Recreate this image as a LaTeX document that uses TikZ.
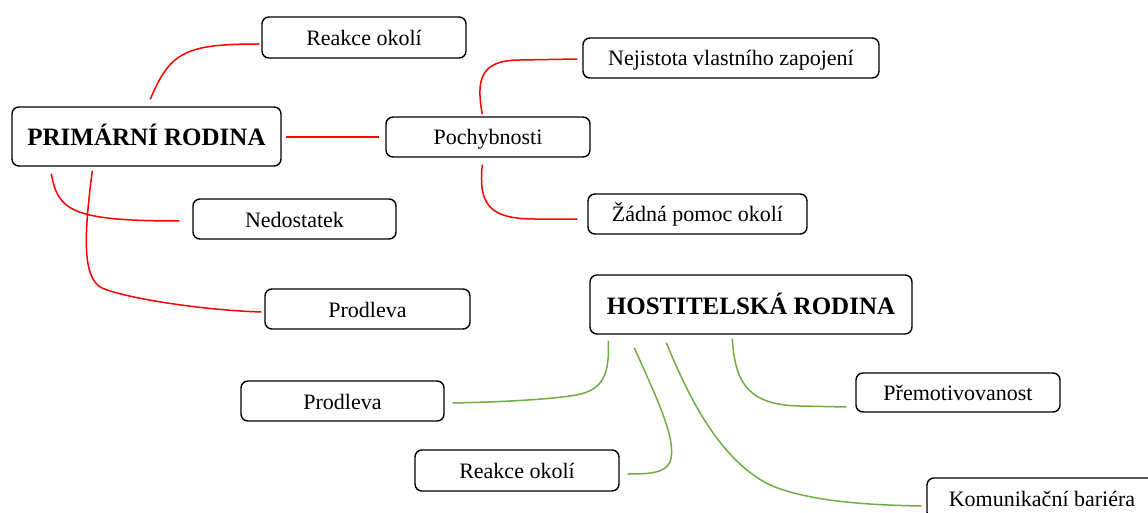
\documentclass[tikz,border=0pt]{standalone}
\usepackage{fontspec}
\setmainfont{Liberation Serif}
\usetikzlibrary{calc}
\definecolor{redline}{RGB}{255,0,0}
\definecolor{greenline}{RGB}{112,173,71}
\begin{document}
\begin{tikzpicture}[x=1pt,y=-1pt,
  box/.style={draw=black,line width=1.4pt,rounded corners=7pt,fill=white,inner sep=0pt,
    font=\fontsize{22}{26}\selectfont,minimum height=40pt,minimum width=204pt,
    text height=18pt,text depth=2pt},
  mainbox/.style={box,font=\fontsize{25}{30}\selectfont\bfseries,minimum height=59pt,
    text height=21pt,text depth=2pt},
  redc/.style={draw=redline,line width=1.5pt},
  greenc/.style={draw=greenline,line width=1.5pt}]
\clip (0,0) rectangle (1148,513);
\fill[white] (0,0) rectangle (1148,513);
% nodes
\node[mainbox,minimum width=269pt] (prim) at (146.5,136.5) {PRIMÁRNÍ RODINA};
\node[box,minimum height=41pt] (reak1) at (364,37.5) {Reakce okolí};
\node[box] (poch) at (488,137) {Pochybnosti};
\node[box,minimum width=296pt] (nej) at (731,58) {Nejistota vlastního zapojení};
\node[box,minimum width=219pt] (zadna) at (697.5,214) {Žádná pomoc okolí};
\node[box,minimum width=203pt] (nedo) at (294.5,219) {Nedostatek};
\node[box,minimum width=205pt] (prod1) at (367.5,309) {Prodleva};
\node[mainbox,minimum width=322pt] (host) at (751,304.5) {HOSTITELSKÁ RODINA};
\node[box,minimum width=203pt] (prod2) at (342.5,401) {Prodleva};
\node[box,minimum height=41pt] (reak2) at (517,470.5) {Reakce okolí};
\node[box,minimum height=39pt] (prem) at (958,392.5) {Přemotivovanost};
\node[box,minimum width=230pt,minimum height=41pt] (komu) at (1042,498.5) {Komunikační bariéra};
% red connectors
\path[redc] ([shift={(139,-7)}]prim.north west) .. controls (170,52) and (185,44) .. ([shift={(-2,6.5)}]reak1.west);
\path[redc] ([shift={(4,0.5)}]prim.east) -- ([shift={(-6,0)}]poch.west);
\path[redc] ([shift={(40,7)}]prim.south west) .. controls (58,210) and (70,221) .. ([shift={(-13,2)}]nedo.west);
\path[redc] ([shift={(81,4)}]prim.south west) .. controls (84,235) and (82,278) .. (102,288)
  .. controls (125,298) and (200,310) .. ([shift={(-3,3)}]prod1.west);
\path[redc] ([shift={(97,-2)}]poch.north west) .. controls (476,80) and (480,60) .. (520,60) -- ([shift={(-5,1)}]nej.west);
\path[redc] ([shift={(97,7)}]poch.south west) .. controls (478,205) and (490,219) .. (535,219) -- ([shift={(-10,5)}]zadna.west);
% green connectors
\path[greenc] ([shift={(19,6)}]host.south west) .. controls (610,380) and (600,392) .. (570,396)
  .. controls (540,400) and (500,402) .. ([shift={(8,2)}]prod2.east);
\path[greenc] ([shift={(45,13)}]host.south west) .. controls (655,395) and (678,440) .. (670,462)
  .. controls (665,473) and (650,474) .. ([shift={(8,3.5)}]reak2.east);
\path[greenc] ([shift={(77,8)}]host.south west) .. controls (690,400) and (720,460) .. (770,485)
  .. controls (810,502) and (870,505) .. ([shift={(-5,7.5)}]komu.west);
\path[greenc] ([shift={(143,4)}]host.south west) .. controls (735,385) and (750,405) .. (800,406) -- ([shift={(-9,14.5)}]prem.west);
\end{tikzpicture}
\end{document}
